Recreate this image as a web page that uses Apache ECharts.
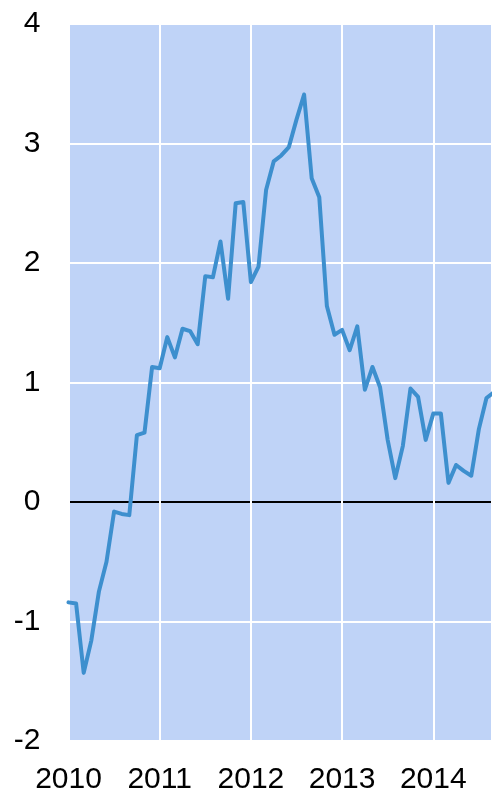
<!DOCTYPE html>
<html>
<head>
<meta charset="utf-8">
<script src="https://cdn.jsdelivr.net/npm/echarts@6/dist/echarts.min.js"></script>
<style>
html,body{margin:0;padding:0;background:#fff;}
#chart{width:492px;height:792px;}
</style>
</head>
<body>
<div id="chart"></div>
<script>
// Monthly observations, Jan 2010 .. Sep 2014
const startYear = 2010;
const values = [
  -0.84,-0.85,-1.43,-1.16,-0.75,-0.50,-0.08,-0.10,-0.11,0.56,0.58,1.13,
  1.12,1.38,1.21,1.45,1.43,1.32,1.89,1.88,2.18,1.70,2.50,2.51,
  1.84,1.97,2.61,2.85,2.90,2.97,3.20,3.41,2.71,2.55,1.64,1.40,
  1.44,1.27,1.47,0.94,1.13,0.96,0.52,0.20,0.47,0.95,0.88,0.52,
  0.74,0.74,0.16,0.31,0.26,0.22,0.61,0.87,0.92
];
const yTicks = [-2,-1,0,1,2,3,4];
const xYears = [2010,2011,2012,2013,2014];

const seriesData = values.map((v,i)=>[startYear + i/12, v]);
const splitColors = yTicks.map(t => t === 0 ? '#000000' : '#ffffff');

const chart = echarts.init(document.getElementById('chart'), null, {renderer:'canvas'});
chart.setOption({
  animation:false,
  grid:{left:68.5, right:0, top:24, bottom:51, show:true, backgroundColor:'#BFD3F7', borderWidth:0,
        containLabel:false, outerBoundsMode:'none'},
  xAxis:{
    type:'value', min:xYears[0], max:2014.644, interval:1,
    axisLine:{show:false}, axisTick:{show:false},
    splitLine:{show:true, lineStyle:{color:'#ffffff', width:2}},
    axisLabel:{
      showMaxLabel:false,
      color:'#000', fontSize:30, fontFamily:'Liberation Sans, Arial, sans-serif',
      margin:24,
      formatter:(v)=> String(Math.round(v))
    }
  },
  yAxis:{
    type:'value', min:yTicks[0], max:yTicks[yTicks.length-1], interval:1,
    axisLine:{show:false}, axisTick:{show:false},
    splitLine:{show:true, lineStyle:{color:splitColors, width:2}},
    axisLabel:{color:'#000', fontSize:30, fontFamily:'Liberation Sans, Arial, sans-serif', margin:28}
  },
  series:[{
    type:'line', data:seriesData, showSymbol:false, symbol:'none',
    clip:true,
    lineStyle:{color:'#3D8FCE', width:4, join:'round', cap:'round'}
  }]
});
</script>
</body>
</html>
